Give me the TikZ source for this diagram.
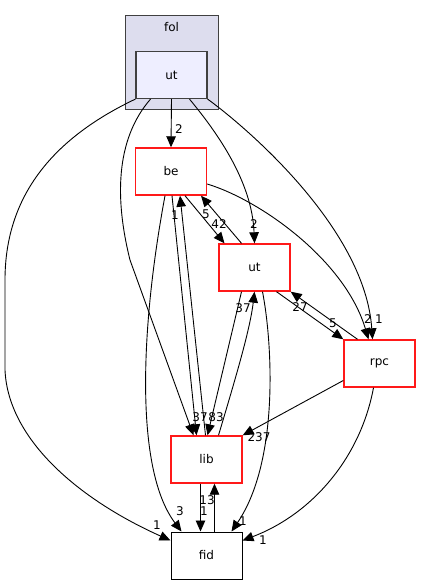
\documentclass[tikz,border=0pt]{standalone}
\usepackage{fontspec}
\setmainfont{DejaVu Sans}
\usetikzlibrary{arrows.meta}
\definecolor{folfill}{HTML}{DDDDEE}
\definecolor{utfill}{HTML}{EEEEFF}
\definecolor{boxline}{HTML}{404040}
\begin{document}
\begin{tikzpicture}[x=1pt, y=-1pt, >={Triangle[length=11pt,width=9.5pt]},
        every node/.style={font=\fontsize{12}{14}\selectfont, inner sep=0pt},
        dirbox/.style={rectangle, draw=red!90!white, line width=1.4pt, fill=white, minimum width=71pt, minimum height=47pt},
        dep/.style={->, line width=0.9pt}]
        \useasboundingbox (0,0) rectangle (421,585);
        \node[rectangle, draw=boxline, line width=1pt, fill=folfill, minimum width=93pt, minimum height=94pt] (fol) at (171.5,63) {};
        \node (folname) at (171.5,27) {fol};
        \node[dirbox, draw=boxline, fill=utfill, line width=1.2pt] (utTop) at (171.5,75) {ut};
        \node[dirbox] (be) at (171,171.5) {be};
        \node[dirbox] (utMid) at (254.5,267.5) {ut};
        \node[dirbox] (rpc) at (379.5,363.5) {rpc};
        \node[dirbox] (lib) at (206.5,459.5) {lib};
        \node[dirbox, draw=black, line width=1pt] (fid) at (206.5,555.5) {fid};

        \draw[dep] (utTop.south) -- (be.north);
        \draw[dep] ([xshift=18pt]utTop.south) .. controls (215,130) and (252,180) .. (utMid.north);
        \draw[dep] (utTop.south east) .. controls (250,130) and (365,230) .. ([xshift=-7pt]rpc.north);
        \draw[dep] ([xshift=-21pt]utTop.south) .. controls (115,140) and (115,200) .. (130,260) -- ([xshift=-13pt]lib.north);
        \draw[dep] (utTop.south west) .. controls (60,135) and (5,190) .. (5,280) -- (5,370) .. controls (8,440) and (80,500) .. ([yshift=15pt]fid.west);
        \draw[dep] ([xshift=14pt]be.south) -- ([xshift=-30pt]utMid.north);
        \draw[dep] ([xshift=-13pt]utMid.north) -- ([xshift=30pt]be.south);
        \draw[dep] ([yshift=-12.5pt]be.east) .. controls (260,200) and (345,260) .. ([xshift=-11pt]rpc.north);
        \draw[dep] ([xshift=1pt]be.south) -- ([xshift=-10pt]lib.north);
        \draw[dep] ([xshift=-6pt]be.south) .. controls (140,330) and (135,470) .. ([xshift=-25pt]fid.north);
        \draw[dep] ([xshift=-1pt]lib.north) -- ([xshift=9pt]be.south);
        \draw[dep] ([xshift=-13pt]utMid.south) -- ([xshift=1pt]lib.north);
        \draw[dep] ([xshift=12pt]lib.north) .. controls (235,380) and (250,330) .. (utMid.south);
        \draw[dep] ([xshift=22pt]utMid.south) -- (rpc.north west);
        \draw[dep] ([xshift=-22pt]rpc.north) -- (utMid.south east);
        \draw[dep] ([xshift=8pt]utMid.south) .. controls (272,340) and (280,460) .. ([xshift=25pt]fid.north);
        \draw[dep] ([yshift=-17pt]rpc.west) -- (lib.north east);
        \draw[dep] ([xshift=-6pt]rpc.south) .. controls (360,460) and (310,515) .. ([yshift=15pt]fid.east);
        \draw[dep] ([xshift=-6pt]lib.south) -- ([xshift=-6pt]fid.north);
        \draw[dep] ([xshift=8pt]fid.north) -- ([xshift=8pt]lib.south);

        \node (lUtBe) at (179,129) {2};
        \node (lUtUt) at (254,224) {2};
        \node (lUtRpc) at (379,319) {1};
        \node (lUtFid) at (157,525) {1};
        \node (lBeUt) at (219,224) {42};
        \node (lUtBeUp) at (206,214) {5};
        \node (lBeRpc) at (368,319) {2};
        \node (lBeLib) at (200,417) {37};
        \node (lBeFid) at (180,511) {3};
        \node (lLibBe) at (175,215) {1};
        \node (lUtLib) at (216,417) {83};
        \node (lLibUt) at (243,308) {37};
        \node (lUtRpc2) at (333,323) {5};
        \node (lRpcUt) at (300,307) {27};
        \node (lUtFid2) at (243,521) {1};
        \node (lRpcLib) at (259,437) {237};
        \node (lRpcFid) at (263,540) {1};
        \node (lLibFid) at (204,511) {1};
        \node (lFidLib) at (207,500) {13};
\end{tikzpicture}
\end{document}
